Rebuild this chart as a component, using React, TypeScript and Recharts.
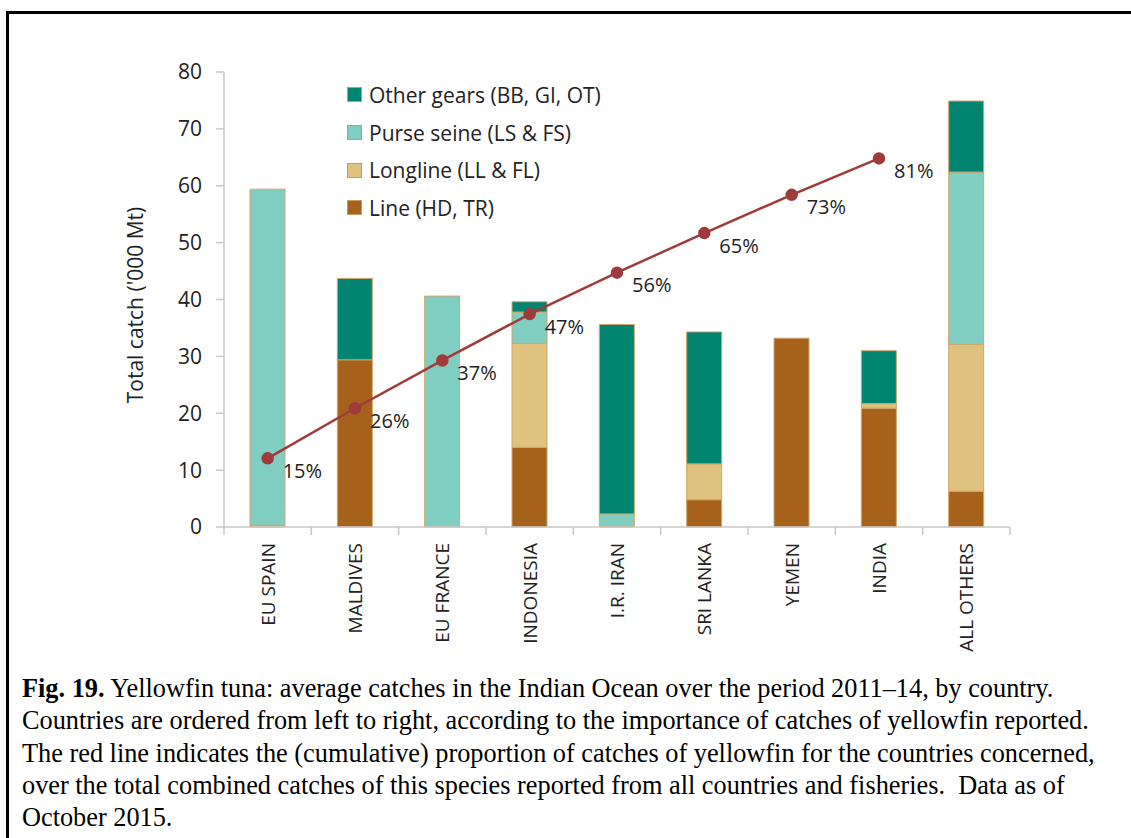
import {
  ComposedChart,
  Bar,
  Line,
  XAxis,
  YAxis,
  LabelList,
} from "recharts";

const categories = [
  "EU SPAIN",
  "MALDIVES",
  "EU FRANCE",
  "INDONESIA",
  "I.R. IRAN",
  "SRI LANKA",
  "YEMEN",
  "INDIA",
  "ALL OTHERS",
];

// '000 Mt, by gear
const lineGear = [0, 29.4, 0, 14.0, 0.1, 4.8, 33.2, 20.9, 6.3];
const longline = [0.3, 0, 0, 18.3, 0, 6.3, 0, 0.8, 25.8];
const purseSeine = [59.1, 0, 40.6, 5.5, 2.2, 0, 0, 0, 30.3];
const otherGears = [0, 14.3, 0, 1.8, 33.3, 23.2, 0, 9.3, 12.5];

// cumulative share of total catch (%)
const cumulative = [15.1, 26.1, 36.6, 46.8, 55.9, 64.6, 73.0, 81.0, null];

const SERIES = [
  { key: "other", name: "Other gears (BB, GI, OT)", color: "#018571" },
  { key: "purse", name: "Purse seine (LS & FS)", color: "#80cdc1" },
  { key: "longline", name: "Longline (LL & FL)", color: "#dfc27d" },
  { key: "line", name: "Line (HD, TR)", color: "#a6611a" },
];

const data = categories.map((name, i) => ({
  name,
  line: lineGear[i],
  longline: longline[i],
  purse: purseSeine[i],
  other: otherGears[i],
  cum: cumulative[i],
}));

const FONT = "'Open Sans', sans-serif";
const AXIS_GRAY = "#c8c8c8";
const RED = "#9f3b3a";

const CHART_W = 1131;
const MARGIN = { top: 72, right: 121, bottom: 0, left: 0 };
const Y_AXIS_W = 224;
const BAND = (CHART_W - MARGIN.right - Y_AXIS_W) / categories.length;

function CategoryTick(props: any) {
  const { x, y, payload, index } = props;
  const ty = y + 16;
  const isLast = index === categories.length - 1;
  return (
    <g>
      <line x1={x - BAND / 2} x2={x - BAND / 2} y1={y} y2={y + 8} stroke={AXIS_GRAY} strokeWidth={1.5} />
      {isLast && (
        <line x1={x + BAND / 2} x2={x + BAND / 2} y1={y} y2={y + 8} stroke={AXIS_GRAY} strokeWidth={1.5} />
      )}
      <text
        x={x}
        y={ty}
        transform={`rotate(-90 ${x} ${ty})`}
        textAnchor="end"
        dominantBaseline="central"
        fontFamily={FONT}
        fontSize={19}
        fill="#222"
      >
        {payload.value}
      </text>
    </g>
  );
}

function PctLabel(props: any) {
  const { x, y, value } = props;
  if (value == null) return null;
  return (
    <text
      x={x + 15}
      y={y + 12}
      dominantBaseline="central"
      fontFamily={FONT}
      fontSize={20}
      fill="#222"
    >
      {Math.round(value)}%
    </text>
  );
}

function GearLegend() {
  return (
    <div style={{ fontFamily: FONT, fontSize: 21, color: "#222" }}>
      {SERIES.map((s) => (
        <div
          key={s.key}
          style={{ display: "flex", alignItems: "center", height: 37.7 }}
        >
          <span
            style={{
              display: "inline-block",
              width: 13,
              height: 13,
              background: s.color,
              border: "1px solid #c99a5e",
              marginRight: 7,
            }}
          />
          <span>{s.name}</span>
        </div>
      ))}
    </div>
  );
}

export default function App() {
  return (
    <div
      style={{
        position: "absolute",
        left: 0,
        top: 0,
        width: 1131,
        height: 838,
        background: "#fff",
        overflow: "hidden",
      }}
    >
      <div
        style={{
          position: "absolute",
          left: 6,
          top: 11,
          width: 1200,
          height: 900,
          borderTop: "3px solid #000",
          borderLeft: "3px solid #000",
        }}
      />
      <div style={{ position: "absolute", left: 0, top: 0 }}>
        <ComposedChart width={CHART_W} height={700} data={data} margin={MARGIN}>
          <XAxis
            xAxisId="cat"
            dataKey="name"
            height={173}
            interval={0}
            axisLine={{ stroke: AXIS_GRAY, strokeWidth: 1.5 }}
            tickLine={false}
            tickSize={0}
            tickMargin={0}
            tick={<CategoryTick />}
          />
          <YAxis
            yAxisId="left"
            domain={[0, 80]}
            ticks={[0, 10, 20, 30, 40, 50, 60, 70, 80]}
            width={Y_AXIS_W}
            tickSize={8}
            tickMargin={14}
            axisLine={{ stroke: AXIS_GRAY, strokeWidth: 1.5 }}
            tickLine={{ stroke: AXIS_GRAY, strokeWidth: 1.5 }}
            tick={{ fontFamily: FONT, fontSize: 21, fill: "#222" }}
            label={{
              content: () => (
                <text
                  x={135}
                  y={305}
                  transform="rotate(-90 135 305)"
                  textAnchor="middle"
                  dominantBaseline="central"
                  fontFamily={FONT}
                  fontSize={21}
                  fill="#222"
                >
                  Total catch ('000 Mt)
                </text>
              ),
            }}
          />
          <YAxis yAxisId="pct" orientation="right" domain={[0, 100]} hide />
          {[...SERIES].reverse().map((s) => (
            <Bar
              key={s.key}
              dataKey={s.key}
              name={s.name}
              stackId="gear"
              xAxisId="cat"
              yAxisId="left"
              fill={s.color}
              stroke="#cfa66c"
              strokeWidth={1}
              barSize={35}
              isAnimationActive={false}
            />
          ))}
          <Line
            dataKey="cum"
            xAxisId="cat"
            yAxisId="pct"
            stroke={RED}
            strokeWidth={2.5}
            dot={{ r: 5, fill: RED, stroke: RED }}
            legendType="none"
            isAnimationActive={false}
          >
            <LabelList dataKey="cum" content={<PctLabel />} />
          </Line>
        </ComposedChart>
      </div>
      <div style={{ position: "absolute", left: 347, top: 76 }}>
        <GearLegend />
      </div>
      <div
        style={{
          position: "absolute",
          left: 22,
          top: 673,
          fontFamily: "'Liberation Serif', 'Times New Roman', serif",
          fontSize: 26.3,
          lineHeight: "32.3px",
          color: "#000",
          whiteSpace: "nowrap",
        }}
      >
        <div>
          <b>Fig. 19.</b> Yellowfin tuna: average catches in the Indian Ocean over
          the period 2011–14, by country.
        </div>
        <div>
          Countries are ordered from left to right, according to the importance of
          catches of yellowfin reported.
        </div>
        <div>
          The red line indicates the (cumulative) proportion of catches of
          yellowfin for the countries concerned,
        </div>
        <div>
          over the total combined catches of this species reported from all
          countries and fisheries.&nbsp; Data as of
        </div>
        <div>October 2015.</div>
      </div>
    </div>
  );
}
